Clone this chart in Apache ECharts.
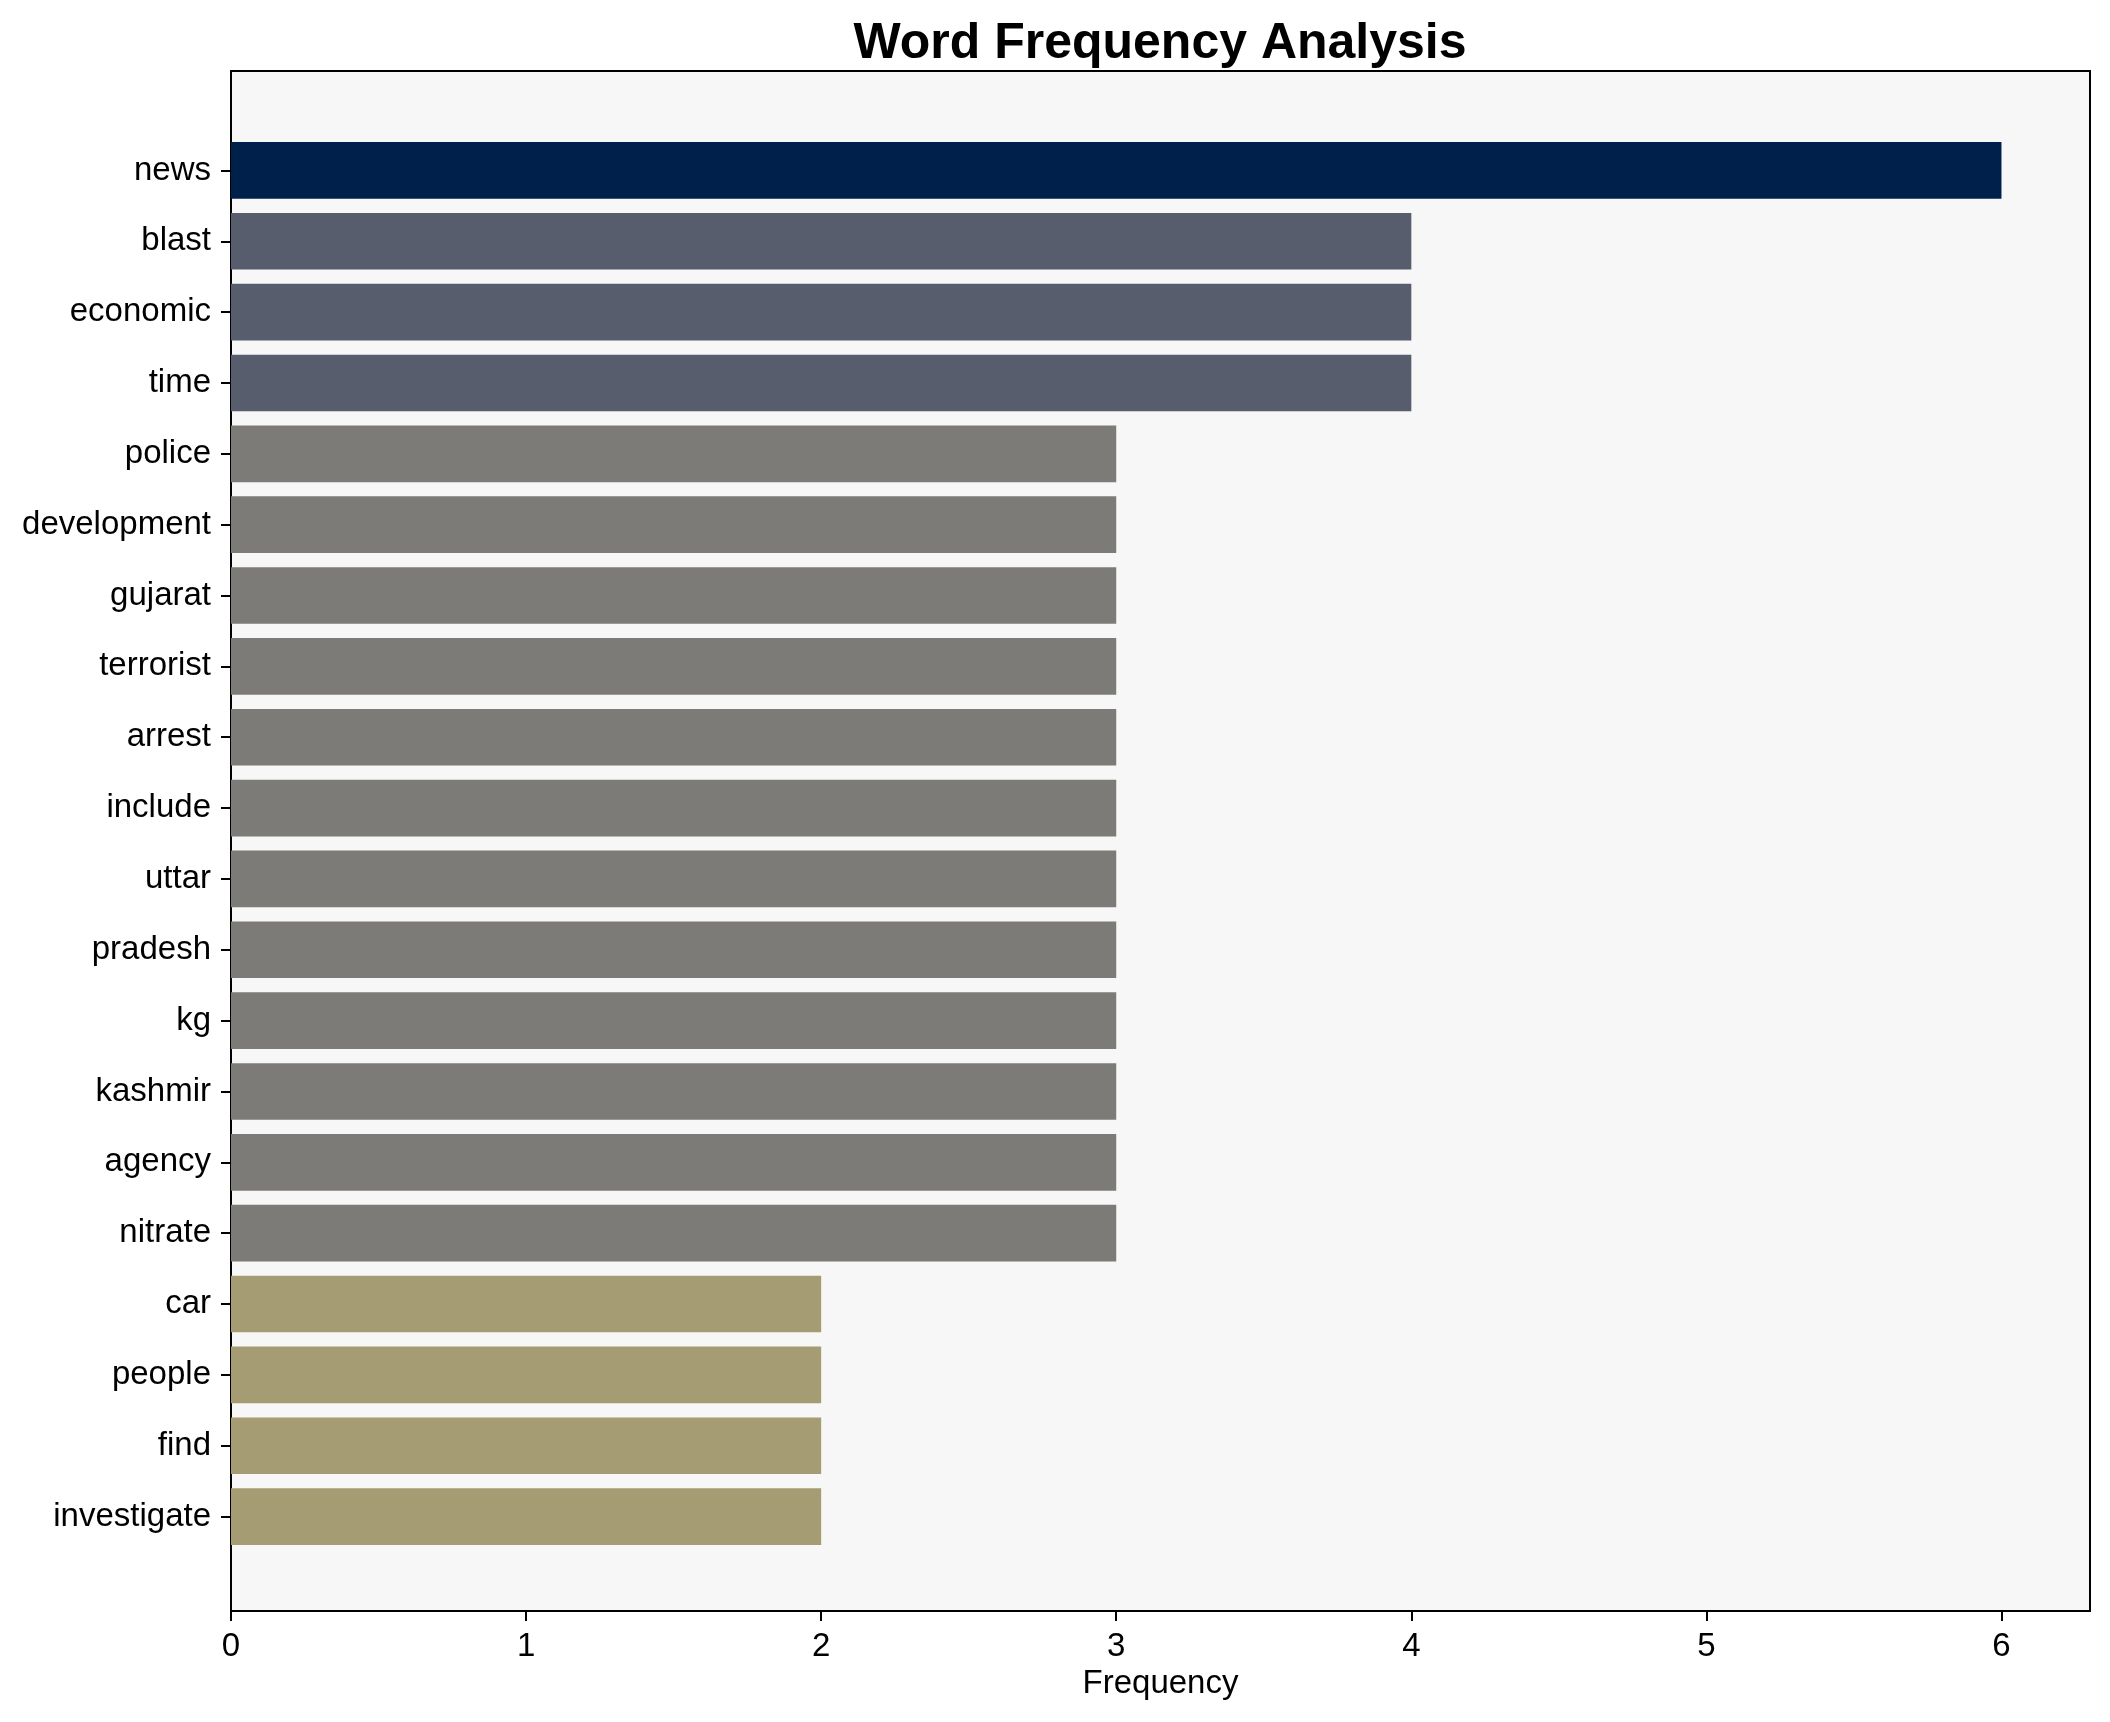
<!DOCTYPE html>
<html>
<head>
<meta charset="utf-8">
<script src="https://cdn.jsdelivr.net/npm/echarts@6/dist/echarts.min.js"></script>
<style>html,body{margin:0;padding:0;background:#fff}#c{width:2110px;height:1722px}</style>
</head>
<body>
<div id="c"></div>
<script>
const categories = ["news","blast","economic","time","police","development","gujarat","terrorist","arrest","include","uttar","pradesh","kg","kashmir","agency","nitrate","car","people","find","investigate"];
const frequencies = [6,4,4,4,3,3,3,3,3,3,3,3,3,3,3,3,2,2,2,2];
const xTicks = [0,1,2,3,4,5,6];
const colorByValue = {6:"#00204c",4:"#585d6d",3:"#7c7b78",2:"#a59c74"};

const FONT = "Liberation Sans, Arial, sans-serif";
const chart = echarts.init(document.getElementById('c'), null, {renderer:'canvas'});
chart.setOption({
  animation:false,
  backgroundColor:'#ffffff',
  title:{
    text:'Word Frequency Analysis',
    left:1160, top:19, textAlign:'center', padding:0,
    textStyle:{fontFamily:FONT,fontSize:50,fontWeight:'bold',color:'#000'}
  },
  grid:[
    {left:231,right:20,top:71,bottom:111,show:true,backgroundColor:'#f7f7f7',borderColor:'#000',borderWidth:2,containLabel:false},
    {left:231,right:20,top:135,bottom:170,show:false,containLabel:false}
  ],
  xAxis:[
    {type:'value',gridIndex:0,min:0,max:6.3,
     name:'Frequency',nameLocation:'middle',nameGap:56,
     nameTextStyle:{fontFamily:FONT,fontSize:33,color:'#000'},
     axisLine:{show:false},
     splitLine:{show:false},
     axisTick:{show:true,length:10,lineStyle:{color:'#000',width:2},customValues:xTicks},
     axisLabel:{fontFamily:FONT,fontSize:33,color:'#000',margin:19,customValues:xTicks}
    },
    {type:'value',gridIndex:1,min:0,max:6.3,show:false,splitLine:{show:false}}
  ],
  yAxis:[
    {type:'value',gridIndex:0,show:false,splitLine:{show:false}},
    {type:'category',gridIndex:1,data:categories,inverse:true,
     axisLine:{show:false},
     axisTick:{show:true,alignWithLabel:true,length:10,lineStyle:{color:'#000',width:2}},
     axisLabel:{fontFamily:FONT,fontSize:33,color:'#000',margin:20},
     splitLine:{show:false}
    }
  ],
  series:[{
    type:'bar',xAxisIndex:1,yAxisIndex:1,
    barCategoryGap:'20%',
    data:frequencies.map(v=>({value:v,itemStyle:{color:colorByValue[v]}}))
  }]
});
</script>
</body>
</html>
